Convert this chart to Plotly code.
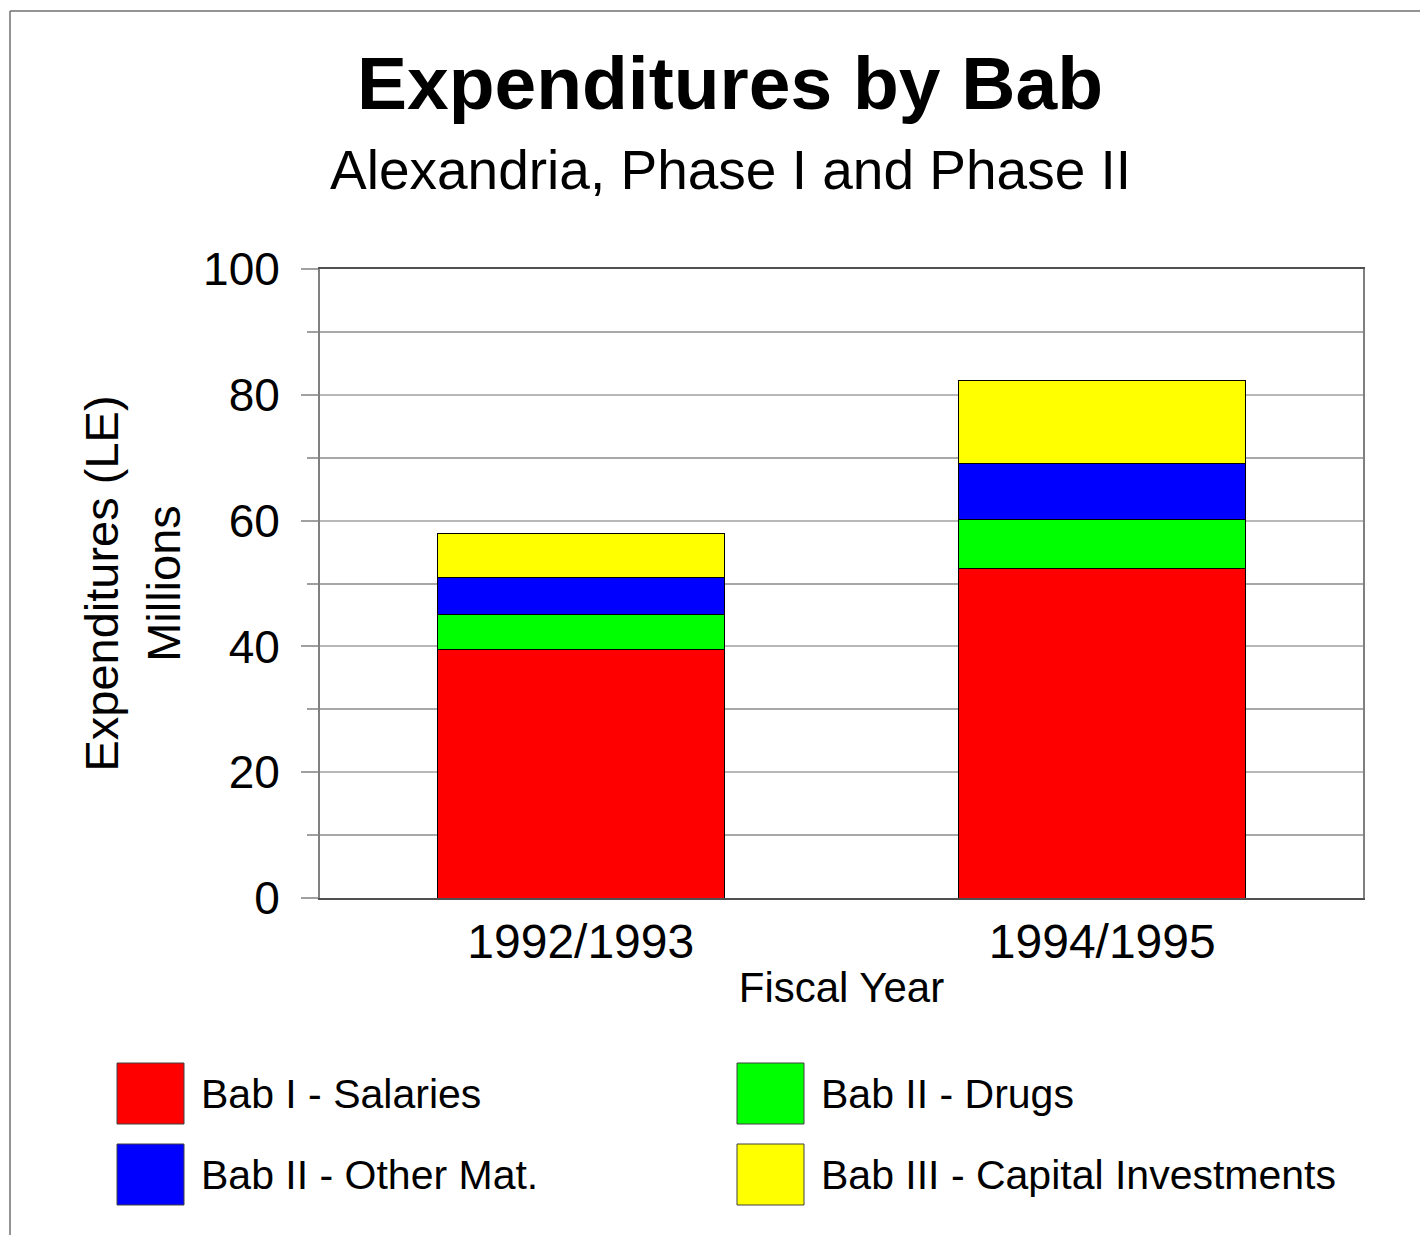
import plotly.graph_objects as go

# data (millions LE)
years = ["1992/1993", "1994/1995"]
salaries = [39.5, 52.4]
drugs = [5.5, 7.7]
other_mat = [5.9, 8.9]
capital = [7.0, 13.2]

series_names = ["Bab I - Salaries", "Bab II - Drugs", "Bab II - Other Mat.", "Bab III - Capital Investments"]
series_colors = ["#ff0000", "#00ff00", "#0000ff", "#ffff00"]
series_values = [salaries, drugs, other_mat, capital]

OFF = 8  # page body margin
W, H = 1428 - OFF, 1235 - OFF
L, R, T, B = 320, 1363, 269, 898  # plot area in screen pixels
FONT = "Arial, Liberation Sans, sans-serif"


def px(x):
    return (x - L) / (R - L)


def py(y):
    return (B - y) / (B - T)


fig = go.Figure()
for name, color, vals in zip(series_names, series_colors, series_values):
    fig.add_trace(go.Bar(
        x=years, y=vals, name=name,
        marker=dict(color=color, line=dict(color="#000000", width=1)),
        width=0.55, showlegend=False,
    ))

# big square legend swatches, drawn by hand
legend_slots = [(117, 1063), (737, 1063), (117, 1144), (737, 1144)]
for (sx, sy), name, color in zip(legend_slots, series_names, series_colors):
    fig.add_shape(type="rect", xref="paper", yref="paper",
                  x0=px(sx), x1=px(sx + 67), y0=py(sy), y1=py(sy + 61),
                  fillcolor=color, line=dict(color="#404040", width=1))
    fig.add_annotation(xref="paper", yref="paper", x=px(sx + 82), y=py(sy + 31),
                       text=name, showarrow=False, xanchor="left", yanchor="middle",
                       font=dict(family=FONT, size=41, color="#000000"))

# outer frame (left and top edges)
fig.add_shape(type="line", xref="paper", yref="paper",
              x0=px(10), x1=px(10), y0=py(11), y1=py(1240),
              line=dict(color="#707070", width=1.5))
fig.add_shape(type="line", xref="paper", yref="paper",
              x0=px(10), x1=px(1440), y0=py(11), y1=py(11),
              line=dict(color="#707070", width=1.5))

# subtitle
fig.add_annotation(xref="paper", yref="paper", x=px(730), y=py(170),
                   text="Alexandria, Phase I and Phase II", showarrow=False,
                   xanchor="center", yanchor="middle",
                   font=dict(family=FONT, size=55, color="#000000"))

fig.update_layout(
    width=W, height=H,
    margin=dict(l=L - OFF, r=W - (R - OFF), t=T - OFF, b=H - (B - OFF), pad=0),
    paper_bgcolor="white", plot_bgcolor="white",
    barmode="stack",
    font=dict(family=FONT, color="#000000"),
    title=dict(text="<b>Expenditures by Bab</b>", x=(730 - OFF) / W, xanchor="center",
               y=1 - (83 - OFF) / H, yanchor="middle", yref="container",
               font=dict(family=FONT, size=75, color="#000000")),
    xaxis=dict(
        type="category", range=[-0.5, 1.5],
        showline=True, linecolor="#505050", linewidth=2, mirror=True,
        ticks="", tickfont=dict(size=48), ticklabelstandoff=0,
        title=dict(text="Fiscal Year", font=dict(size=42), standoff=6),
        showgrid=False,
    ),
    yaxis=dict(
        range=[0, 100], dtick=20, tick0=0,
        showline=True, linecolor="#808080", linewidth=2, mirror=True,
        ticks="outside", ticklen=17, tickcolor="#a0a0a0", tickwidth=2,
        tickfont=dict(size=46), ticklabelstandoff=12,
        showgrid=True, gridcolor="#b8b8b8", gridwidth=2,
        minor=dict(dtick=10, ticks="outside", ticklen=11, tickcolor="#a0a0a0",
                   showgrid=True, gridcolor="#a8a8a8", gridwidth=1.5),
        zeroline=False,
        title=dict(text="Expenditures (LE)<br>Millions", font=dict(size=47), standoff=8),
    ),
)

fig.write_html("out.html")
